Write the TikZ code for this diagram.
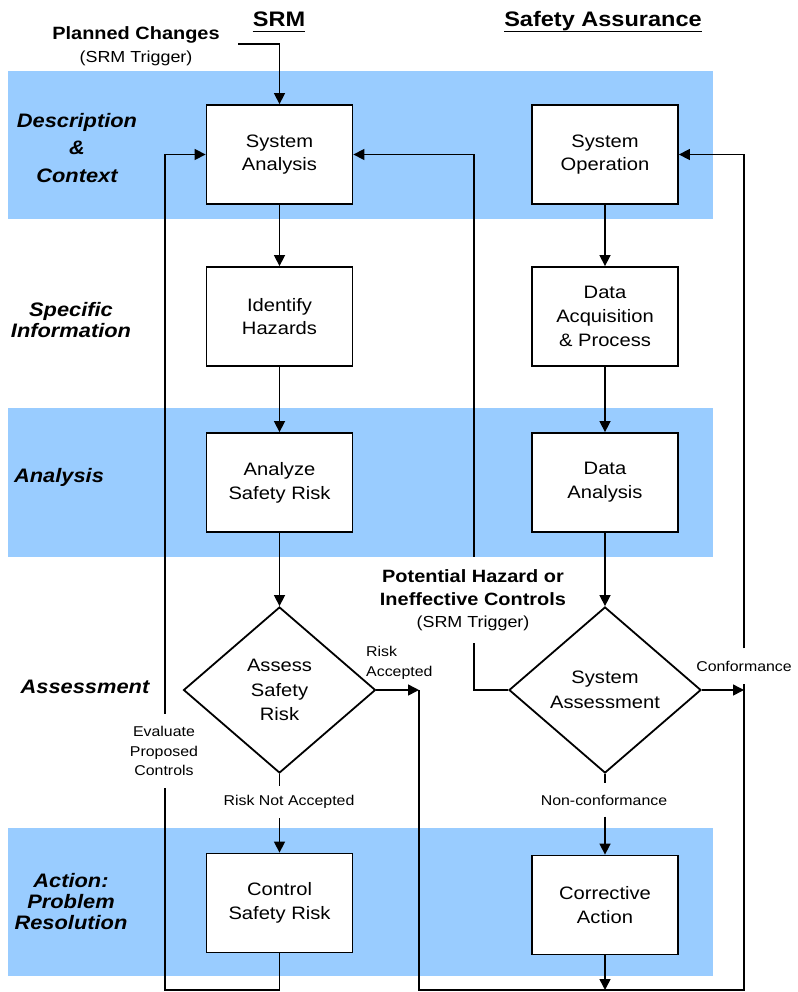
\documentclass[tikz,border=0pt]{standalone}
\usepackage{fontspec}
\setmainfont{Liberation Sans}[FakeStretch=1.12]
\usetikzlibrary{arrows.meta,shapes.geometric}
\definecolor{bandblue}{HTML}{99CCFF}
\newcommand\rowfont[1]{\fontsize{19.5}{#1}\selectfont\bfseries\itshape}
\begin{document}
\begin{tikzpicture}[x=1pt,y=-1pt,
  box/.style={draw, line width=1.8pt, fill=white, minimum width=146pt, minimum height=99pt, inner sep=0pt, align=center, font=\fontsize{18}{23.8}\selectfont},
  dia/.style={draw, diamond, line width=1.8pt, fill=white, minimum width=192pt, minimum height=166pt, inner sep=0pt, align=center, font=\fontsize{18}{24.5}\selectfont},
  hdr/.style={inner sep=0pt, font=\fontsize{21}{24}\selectfont\bfseries},
  rowlab/.style={inner sep=0pt, align=center},
  bold/.style={inner sep=0pt, align=center, font=\fontsize{17.8}{23.5}\selectfont\bfseries},
  trig/.style={inner sep=0pt, font=\fontsize{16}{19}\selectfont},
  small/.style={inner sep=0pt, align=center, font=\fontsize{14.2}{19.5}\selectfont},
  ln/.style={line width=1.5pt},
  arr/.style={line width=1.5pt, -{Triangle[length=11pt,width=11pt]}}]
\useasboundingbox (0,0) rectangle (797,992);
% bands
\fill[bandblue] (8,71) rectangle (713,219);
\fill[bandblue] (8,408) rectangle (713,557);
\fill[bandblue] (8,828) rectangle (713,976);
% headers
\node[hdr, anchor=base] (srmh) at (279,27) {SRM};
\node[hdr, anchor=base] (sah) at (603,27) {Safety Assurance};
\draw[line width=1.6pt] ([yshift=-4.5pt]srmh.base west) -- ([yshift=-4.5pt]srmh.base east);
\draw[line width=1.6pt] ([yshift=-4.5pt]sah.base west) -- ([yshift=-4.5pt]sah.base east);
% row labels
\node[rowlab, font=\rowfont{27.5}] (l1) at (77,148) {Description\\\&\\Context};
\node[rowlab, font=\rowfont{21}] (l2) at (71,320) {Specific\\Information};
\node[rowlab, font=\rowfont{21}] (l3) at (59,477) {Analysis};
\node[rowlab, font=\rowfont{21}] (l4) at (85,687) {Assessment};
\node[rowlab, font=\rowfont{21}] (l5) at (71,902) {Action:\\Problem\\Resolution};
% trigger labels
\node[bold] (pch) at (136,35) {Planned Changes};
\node[trig] (pct) at (136,58) {(SRM Trigger)};
\node[inner sep=0pt, minimum height=86pt, align=center, font=\fontsize{17.8}{23.5}\selectfont\bfseries] (phl) at (473,600)
  {Potential Hazard or\\Ineffective Controls\\[-1.5pt]
   \fontsize{16}{19}\selectfont\mdseries (SRM Trigger)};
% boxes
\node[box] (sa) at (279.5,154.5) {System\\Analysis};
\node[box] (so) at (605,154.5) {System\\Operation};
\node[box] (ih) at (279.5,316.5) {Identify\\Hazards};
\node[box] (dap) at (605,316.5) {Data\\Acquisition\\\& Process};
\node[box] (asr) at (279.5,482.5) {Analyze\\Safety Risk};
\node[box] (da) at (605,482.5) {Data\\Analysis};
\node[dia] (asd) at (279.5,690) {Assess\\Safety\\Risk};
\node[dia] (sysd) at (605,690) {System\\Assessment};
\node[box] (csr) at (279.5,903) {Control\\Safety Risk};
\node[box] (ca) at (605,905) {Corrective\\Action};
% connector labels
\node[small, minimum height=32pt] (rna) at (289,802) {Risk Not Accepted};
\node[small, minimum height=33pt] (ncf) at (604,800) {Non-conformance};
\node[small, minimum height=74pt] (epc) at (164,751) {Evaluate\\Proposed\\Controls};
\node[small, minimum height=35pt] (conf) at (744,666) {Conformance};
\node[small, anchor=west, align=left] (ral) at (366,663) {Risk\\Accepted};
% coordinates
\coordinate (pc0) at (238,44);
\coordinate (lb) at (165,990);
\coordinate (ra) at (419,690);
\coordinate (rb) at (419,990);
\coordinate (cb) at (744,990);
\coordinate (cf) at (744,690);
\coordinate (ph) at (474,690);
% connectors SRM
\draw[arr] (pc0) -| (sa.north);
\draw[arr] (sa.south) -- (ih.north);
\draw[arr] (ih.south) -- (asr.north);
\draw[arr] (asr.south) -- (asd.north);
\draw[ln] (asd.south) -- (asd.south |- rna.north);
\draw[arr] (asd.south |- rna.south) -- (csr.north);
\draw[ln] (csr.south) |- (lb) -- (lb |- epc.south);
\draw[arr] (lb |- epc.north) |- (sa.west);
\draw[arr] (asd.east) -- (ra);
\draw[ln] (ra) -- (rb) -- (cb) -- (cb |- conf.south);
\draw[arr] (cb |- conf.north) |- (so.east);
% connectors SA
\draw[arr] (so.south) -- (dap.north);
\draw[arr] (dap.south) -- (da.north);
\draw[arr] (da.south) -- (sysd.north);
\draw[ln] (sysd.south) -- (sysd.south |- ncf.north);
\draw[arr] (sysd.south |- ncf.south) -- (ca.north);
\draw[arr] (sysd.east) -- (cf);
\draw[arr] (ca.south) -- (ca.south |- rb);
\draw[ln] (sysd.west) -- (ph) -- (ph |- phl.south);
\draw[arr] (ph |- phl.north) |- (sa.east);
\end{tikzpicture}
\end{document}
